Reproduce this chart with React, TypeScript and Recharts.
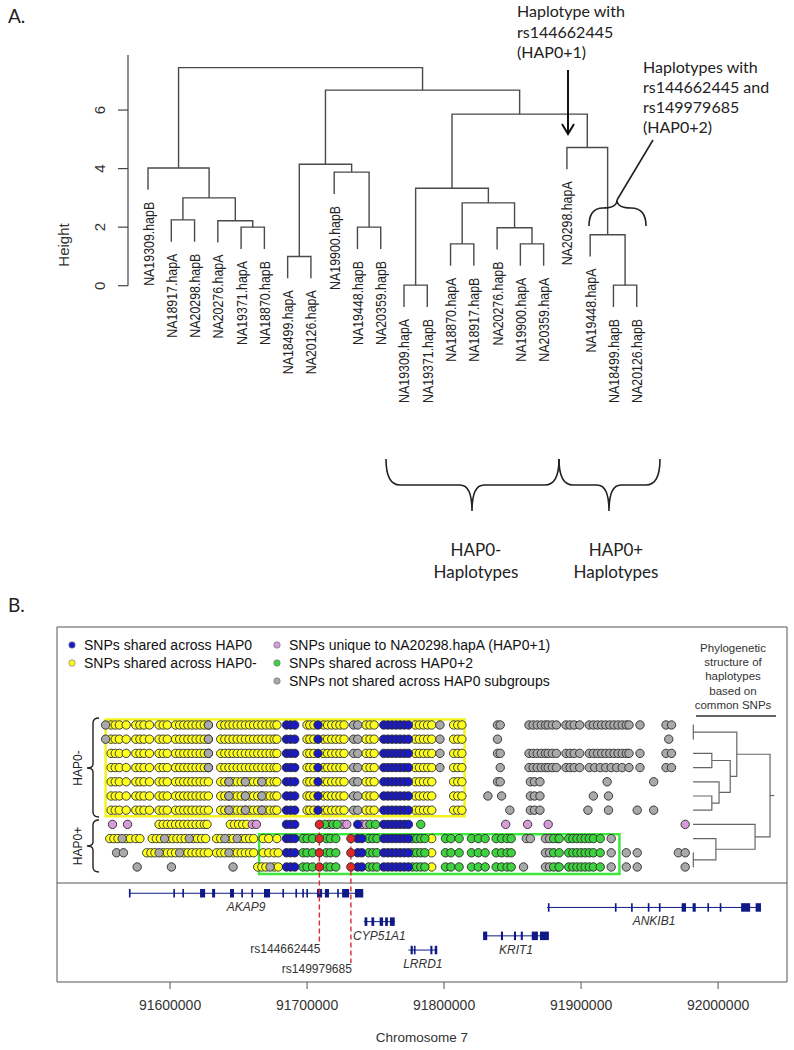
"use client";

import React from "react";
import {
  ComposedChart,
  Line,
  Scatter,
  XAxis,
  YAxis,
  ReferenceArea,
  ReferenceLine,
} from "recharts";

const FONT = "'Liberation Sans', Arial, Helvetica, sans-serif";
const NOTE_FONT = "Lato, 'Open Sans', sans-serif";

// ---------- panel A: clustering of the 22 haplotypes ----------
const leafLabels = [
  "NA19309.hapB", "NA18917.hapA", "NA20298.hapB", "NA20276.hapA", "NA19371.hapA",
  "NA18870.hapB", "NA18499.hapA", "NA20126.hapA", "NA19900.hapB", "NA19448.hapB",
  "NA20359.hapB", "NA19309.hapA", "NA19371.hapB", "NA18870.hapA", "NA18917.hapB",
  "NA20276.hapB", "NA19900.hapA", "NA20359.hapA", "NA20298.hapA", "NA19448.hapA",
  "NA18499.hapB", "NA20126.hapB",
];
// hclust style merge table: negative = leaf number, positive = earlier merge
const merges: [number, number][] = [
  [-12, -13], [-21, -22], [-7, -8], [-14, -15], [-17, -18], [-20, 2], [-5, -6],
  [-10, -11], [-16, 5], [-2, -3], [-4, 7], [4, 9], [10, 11], [1, 12], [-9, 8],
  [-1, 13], [3, 15], [-19, 6], [14, 18], [17, 19], [16, 20],
];
const mergeHeights = [
  0.02, 0.02, 1.0, 1.43, 1.43, 1.74, 2.0, 2.0, 1.98, 2.25, 2.22, 2.83, 3.0, 3.33,
  3.88, 4.02, 4.15, 4.72, 5.86, 6.68, 7.45,
];
const HANG = 0.745;
const heightTicks = [0, 2, 4, 6];
const heightAxisTop = 7.88;

// ---------- panel B: SNP positions (kb on chromosome 7) per haplotype row ----------
// rows 0-6 = HAP0- haplotypes (leaves 12-18), row 7 = NA20298.hapA, rows 8-10 = HAP0+2
const chromTicks = [91600, 91700, 91800, 91900, 92000];
const HAP0_ROOT_MERGE = 19;
const FIRST_ROW_LEAF = 12;

const yellowHap0Minus = [
  91557, 91560, 91563, 91568, 91575, 91578, 91581, 91585, 91592, 91595, 91598, 91604,
  91607, 91610, 91613, 91616, 91619, 91622, 91625, 91628, 91637, 91640, 91643, 91646,
  91649, 91652, 91655, 91658, 91661, 91664, 91667, 91670, 91673, 91676, 91678, 91700,
  91702, 91705, 91712, 91715, 91718, 91721, 91724, 91727, 91743, 91746, 91749, 91779,
  91782, 91785, 91788, 91791, 91807, 91810, 91813,
];
const yellowHap0Plus = [
  [91592, 91595, 91598, 91601, 91604, 91607, 91610, 91613, 91616, 91619, 91622, 91625,
    91627, 91644, 91647, 91650, 91653, 91656],
  [91556, 91559, 91562, 91568, 91571, 91575, 91578, 91587, 91590, 91593, 91599, 91602,
    91605, 91608, 91611, 91617, 91620, 91623, 91626, 91634, 91637, 91643, 91646, 91652,
    91655, 91658, 91661, 91668, 91672, 91678, 91791],
  [91583, 91586, 91589, 91595, 91598, 91601, 91604, 91610, 91613, 91616, 91619, 91622,
    91625, 91628, 91634, 91637, 91640, 91646, 91649, 91652, 91655, 91658, 91661, 91668,
    91672, 91676, 91679, 91791],
  [91664, 91667, 91670, 91676, 91679, 91791],
];
const greyByRow = [
  [91553, 91628, 91734, 91737, 91797, 91839, 91841, 91862, 91865, 91868, 91871, 91874,
    91876, 91879, 91882, 91889, 91892, 91895, 91899, 91906, 91909, 91912, 91915, 91918,
    91921, 91924, 91927, 91930, 91933, 91935, 91943, 91962, 91966],
  [91553, 91628, 91734, 91737, 91797, 91839, 91964],
  [91628, 91734, 91737, 91797, 91839, 91841, 91862, 91865, 91868, 91871, 91874, 91876,
    91879, 91882, 91889, 91892, 91895, 91899, 91906, 91909, 91912, 91915, 91918, 91921,
    91924, 91927, 91930, 91933, 91935, 91943, 91962, 91966],
  [91628, 91734, 91737, 91797, 91841, 91862, 91865, 91868, 91871, 91874, 91876, 91879,
    91882, 91889, 91892, 91895, 91899, 91906, 91910, 91914, 91918, 91922, 91926, 91930,
    91935, 91943, 91962, 91966],
  [91643, 91655, 91667, 91734, 91737, 91839, 91841, 91863, 91866, 91870, 91919, 91953],
  [91643, 91655, 91667, 91734, 91737, 91832, 91842, 91863, 91866, 91870, 91909, 91920],
  [91643, 91655, 91667, 91734, 91737, 91848, 91863, 91866, 91870, 91905, 91920, 91941,
    91953],
  [],
  [91565, 91596, 91614, 91640, 91649, 91860, 91863, 91874, 91877, 91883, 91922],
  [91561, 91566, 91592, 91607, 91643, 91874, 91877, 91922, 91933, 91941, 91971, 91976],
  [91576, 91601, 91646, 91673, 91858, 91874, 91877, 91883, 91922, 91933, 91941, 91976],
];
const blueShared = [91685, 91688, 91691, 91756, 91759, 91762, 91765, 91768, 91771, 91774];
const blueHap0Minus = [91708];
const blueHap0Plus = [91737];
const blueHap0Plus2 = [91740];
const pinkUnique = [
  91558, 91569, 91660, 91663, 91716, 91726, 91729, 91740, 91743, 91845, 91861, 91876, 91976,
];
const greenRow7 = [91713, 91719, 91722, 91746, 91750, 91783];
const greenHap0Plus2 = [
  91697, 91700, 91704, 91714, 91717, 91721, 91745, 91748, 91751, 91777, 91780, 91783,
  91786, 91801, 91805, 91811, 91820, 91825, 91830, 91838, 91842, 91846, 91849, 91880,
  91884, 91891, 91894, 91897, 91900, 91903, 91906, 91909, 91914,
];
const rsNames = ["rs144662445", "rs149979685"];
const rsPositions = [91709, 91732];
const rsFirstRow = [7, 8];

const genes = [
  { name: "AKAP9", start: 91570, end: 91741, lane: 0,
    exons: [[91570, 91571.2], [91602.4, 91603.6], [91609, 91610.2], [91621.9, 91625.6],
      [91630.7, 91632.9], [91643.8, 91646.7], [91652, 91653.2], [91659.4, 91660.6],
      [91668.6, 91673], [91682, 91683.2], [91691.5, 91692.7], [91696.5, 91697.7],
      [91699.5, 91700.7], [91707.3, 91711], [91713, 91716], [91722, 91723.2],
      [91725.6, 91730.7], [91735, 91741]] },
  { name: "ANKIB1", start: 91875.2, end: 92031.3, lane: 1,
    exons: [[91875.8, 91877], [91924.7, 91925.9], [91936.5, 91937.7], [91948.7, 91949.9],
      [91956.8, 91958], [91973.4, 91976.6], [91981.4, 91983.7], [91992.2, 91993.4],
      [92001.2, 92002.4], [92016.8, 92023.4], [92027.4, 92031.3]] },
  { name: "CYP51A1", start: 91741.5, end: 91764.1, lane: 2,
    exons: [[91742, 91744], [91747, 91749], [91753, 91755.5], [91757, 91759],
      [91760.5, 91764]] },
  { name: "KRIT1", start: 91828.5, end: 91876.5, lane: 3,
    exons: [[91828.5, 91831.5], [91841.5, 91843], [91851, 91852.5], [91856, 91857.5],
      [91864, 91868.5], [91870, 91876.5]] },
  { name: "LRRD1", start: 91774, end: 91795, lane: 4,
    exons: [[91775.6, 91777.2], [91778, 91779.2], [91790, 91791.5], [91793.2, 91795]] },
];

const legendLabels = [
  "SNPs shared across HAP0",
  "SNPs shared across HAP0-",
  "SNPs unique to NA20298.hapA (HAP0+1)",
  "SNPs shared across HAP0+2",
  "SNPs not shared across HAP0 subgroups",
];
const phyloNote = ["Phylogenetic", "structure of", "haplotypes", "based on", "common SNPs"];

// ---------- derived geometry ----------
const nodeX: number[] = [];
merges.forEach(([a, b]) => {
  const xa = a < 0 ? -a : nodeX[a - 1];
  const xb = b < 0 ? -b : nodeX[b - 1];
  nodeX.push((xa + xb) / 2);
});
const leafTipHeight: number[] = [];
merges.forEach(([a, b], i) => {
  if (a < 0) leafTipHeight[-a - 1] = mergeHeights[i] - HANG;
  if (b < 0) leafTipHeight[-b - 1] = mergeHeights[i] - HANG;
});
const dendroSegs = merges.map(([a, b], i) => {
  const H = mergeHeights[i];
  const end = (c: number) =>
    c < 0 ? { x: -c, y: H - HANG } : { x: nodeX[c - 1], y: mergeHeights[c - 1] };
  const l = end(a);
  const r = end(b);
  return [
    { x: l.x, y: l.y },
    { x: l.x, y: H },
    { x: r.x, y: H },
    { x: r.x, y: r.y },
  ];
});
const leafTips = leafLabels.map((label, i) => ({ x: i + 1, y: leafTipHeight[i], label }));

// small tree beside the SNP rows: same subtree, leaves at height 0
const nodeRow: Record<number, number> = {};
const miniSegs: { t: number; y: number }[][] = [];
function walk(m: number) {
  const [a, b] = merges[m - 1];
  const H = mergeHeights[m - 1];
  const end = (c: number) => {
    if (c < 0) return { t: 0, y: -c - FIRST_ROW_LEAF };
    walk(c);
    return { t: mergeHeights[c - 1], y: nodeRow[c] };
  };
  const l = end(a);
  const r = end(b);
  nodeRow[m] = (l.y + r.y) / 2;
  miniSegs.push([
    { t: l.t, y: l.y },
    { t: H, y: l.y },
    { t: H, y: r.y },
    { t: r.t, y: r.y },
  ]);
}
walk(HAP0_ROOT_MERGE);
const rootH = mergeHeights[HAP0_ROOT_MERGE - 1];
const miniStub = [
  { t: rootH, y: nodeRow[HAP0_ROOT_MERGE] },
  { t: rootH + 0.32, y: nodeRow[HAP0_ROOT_MERGE] },
];

const hap0MinusRows = [0, 1, 2, 3, 4, 5, 6];
const allRows = [0, 1, 2, 3, 4, 5, 6, 7, 8, 9, 10];
const plusRows = [7, 8, 9, 10];
const plus2Rows = [8, 9, 10];
const onRows = (sites: number[], rows: number[]) =>
  rows.flatMap((r) => sites.map((x) => ({ x, y: r })));
const byRow = (list: number[][], first: number) =>
  list.flatMap((sites, i) => sites.map((x) => ({ x, y: first + i })));

const yellowPts = [...onRows(yellowHap0Minus, hap0MinusRows), ...byRow(yellowHap0Plus, 7)];
const greyPts = byRow(greyByRow, 0);
const pinkPts = onRows(pinkUnique, [7]);
const greenPts = [...onRows(greenRow7, [7]), ...onRows(greenHap0Plus2, plus2Rows)];
const bluePts = [
  ...onRows(blueShared, allRows),
  ...onRows(blueHap0Minus, hap0MinusRows),
  ...onRows(blueHap0Plus, plusRows),
  ...onRows(blueHap0Plus2, plus2Rows),
];
const redPts = rsPositions.flatMap((x, i) =>
  allRows.filter((r) => r >= rsFirstRow[i]).map((r) => ({ x, y: r }))
);

// layout of panel B in row units
const X0 = 91517.5;
const X1 = 92050.3;
const Y_TOP = -6.9;
const Y_BOT = 18.1;
const SEPARATOR = 11.13;
const laneRow = (lane: number) => 11.85 + lane;
const rsEndRow = [15.35, 16.76];

const C = {
  blue: "#1a1ac4",
  yellow: "#ffff1e",
  pink: "#d89ad8",
  green: "#3fd23f",
  grey: "#a9a9a9",
  red: "#e02a2a",
  navy: "#0f1a86",
};

const dot = (fill: string) => (p: any) => (
  <circle cx={p.cx} cy={p.cy} r={4.2} fill={fill} stroke="#2a2a2a" strokeWidth={0.9} />
);

const LeafLabel = (p: any) => {
  const x = p.cx;
  const y = p.cy + 12;
  return (
    <text
      x={x}
      y={y}
      transform={`rotate(-90 ${x} ${y})`}
      textAnchor="end"
      dominantBaseline="central"
      fontSize={15}
      textLength={84}
      lengthAdjust="spacingAndGlyphs"
      fill="#222"
      fontFamily={FONT}
    >
      {p.payload.label}
    </text>
  );
};

const HeightTick = (p: any) => {
  const x = p.x - 16;
  return (
    <text
      x={x}
      y={p.y}
      transform={`rotate(-90 ${x} ${p.y})`}
      textAnchor="middle"
      dominantBaseline="central"
      fontSize={15}
      fill="#333"
      fontFamily={FONT}
    >
      {p.payload.value}
    </text>
  );
};

const GeneLabel = (p: any) => (
  <text
    x={p.cx}
    y={p.cy + 14}
    textAnchor="middle"
    dominantBaseline="central"
    fontSize={12}
    fontStyle="italic"
    fill="#333"
    fontFamily={FONT}
  >
    {p.payload.name}
  </text>
);

const RsLabel = (p: any) => (
  <text
    x={p.cx + 1}
    y={p.cy + 6}
    textAnchor="end"
    dominantBaseline="central"
    fontSize={12}
    fill="#333"
    fontFamily={FONT}
  >
    {p.payload.name}
  </text>
);

function DendrogramPanel() {
  return (
    <ComposedChart width={794} height={600} margin={{ top: 55, right: 134, bottom: 285, left: 0 }}>
      <XAxis type="number" dataKey="x" domain={[0.14, 23]} hide />
      <YAxis
        type="number"
        dataKey="y"
        domain={[-1, heightAxisTop]}
        ticks={heightTicks}
        interval={0}
        width={128}
        axisLine={false}
        tickSize={10}
        tickLine={{ stroke: "#444", strokeWidth: 1.2 }}
        tick={(p: any) => <HeightTick {...p} />}
      />
      <Line
        data={[{ x: 0.14, y: 0 }, { x: 0.14, y: heightAxisTop }]}
        dataKey="y"
        stroke="#444"
        strokeWidth={1.2}
        dot={false}
        activeDot={false}
        isAnimationActive={false}
      />
      {dendroSegs.map((seg, i) => (
        <Line
          key={i}
          data={seg}
          dataKey="y"
          type="linear"
          stroke="#4a4a4a"
          strokeWidth={1.4}
          dot={false}
          activeDot={false}
          isAnimationActive={false}
        />
      ))}
      <Scatter data={leafTips} shape={LeafLabel} isAnimationActive={false} />
    </ComposedChart>
  );
}

function SnpPanel() {
  return (
    <ComposedChart width={794} height={450} margin={{ top: 27, right: 7, bottom: 0, left: 57 }}>
      <XAxis
        xAxisId={0}
        type="number"
        dataKey="x"
        domain={[X0, X1]}
        ticks={chromTicks}
        interval={0}
        tickFormatter={(v: number) => String(Math.round(v * 1000))}
        tickSize={7}
        tickMargin={11}
        axisLine={false}
        tickLine={{ stroke: "#555" }}
        tick={{ fontSize: 14, fill: "#333", fontFamily: FONT }}
        height={68}
        label={{ value: "Chromosome 7", position: "insideBottom", offset: 8, fontSize: 13.5, fill: "#333", fontFamily: FONT }}
      />
      <XAxis xAxisId="tree" type="number" dataKey="t" domain={[-48.4, 7.15]} hide />
      <YAxis type="number" dataKey="y" domain={[Y_TOP, Y_BOT]} reversed hide />

      <ReferenceArea x1={X0} x2={X1} y1={Y_TOP} y2={Y_BOT} fill="none" stroke="#555" strokeWidth={1} />
      <ReferenceLine y={SEPARATOR} stroke="#555" strokeWidth={1} />
      <ReferenceArea x1={91553} x2={91815} y1={-0.38} y2={6.42} fill="none" stroke="#f4f41c" strokeWidth={2.5} />
      <ReferenceArea x1={91665} x2={91928} y1={7.7} y2={10.5} fill="none" stroke="#3ee83e" strokeWidth={2.5} />

      {genes.map((g) => (
        <Line
          key={g.name}
          data={[{ x: g.start, y: laneRow(g.lane) }, { x: g.end, y: laneRow(g.lane) }]}
          dataKey="y"
          stroke={C.navy}
          strokeWidth={1}
          dot={false}
          activeDot={false}
          isAnimationActive={false}
        />
      ))}
      {genes.flatMap((g) =>
        g.exons.map(([s, e], j) => (
          <ReferenceArea
            key={g.name + j}
            x1={s}
            x2={e}
            y1={laneRow(g.lane) - 0.3}
            y2={laneRow(g.lane) + 0.3}
            fill={C.navy}
            fillOpacity={1}
            stroke="none"
          />
        ))
      )}
      {rsPositions.map((x, i) => (
        <ReferenceLine
          key={rsNames[i]}
          segment={[{ x, y: rsFirstRow[i] }, { x, y: rsEndRow[i] }]}
          stroke={C.red}
          strokeWidth={1.4}
          strokeDasharray="5 3"
        />
      ))}

      <Scatter data={yellowPts} shape={dot(C.yellow)} isAnimationActive={false} />
      <Scatter data={greyPts} shape={dot(C.grey)} isAnimationActive={false} />
      <Scatter data={pinkPts} shape={dot(C.pink)} isAnimationActive={false} />
      <Scatter data={greenPts} shape={dot(C.green)} isAnimationActive={false} />
      <Scatter data={bluePts} shape={dot(C.blue)} isAnimationActive={false} />
      <Scatter data={redPts} shape={dot(C.red)} isAnimationActive={false} />

      {[...miniSegs, miniStub].map((seg, i) => (
        <Line
          key={"m" + i}
          xAxisId="tree"
          data={seg}
          dataKey="y"
          type="linear"
          stroke="#666"
          strokeWidth={1.2}
          dot={false}
          activeDot={false}
          isAnimationActive={false}
        />
      ))}

      <Scatter
        data={genes.map((g) => ({ x: (g.start + g.end) / 2, y: laneRow(g.lane), name: g.name }))}
        shape={GeneLabel}
        isAnimationActive={false}
      />
      <Scatter
        data={rsPositions.map((x, i) => ({ x, y: rsEndRow[i], name: rsNames[i] }))}
        shape={RsLabel}
        isAnimationActive={false}
      />
    </ComposedChart>
  );
}

const hBrace = (x1: number, x2: number, xm: number, y0: number, y1: number, y2: number) =>
  `M${x1},${y0} Q${x1},${y1} ${x1 + 14},${y1} L${xm - 12},${y1} Q${xm},${y1} ${xm},${y2} ` +
  `Q${xm},${y1} ${xm + 12},${y1} L${x2 - 14},${y1} Q${x2},${y1} ${x2},${y0}`;

const vBrace = (xEnd: number, xSpine: number, xTip: number, y1: number, y2: number, ym: number) =>
  `M${xEnd},${y1} Q${xSpine},${y1} ${xSpine},${y1 + 5} L${xSpine},${ym - 4} Q${xSpine},${ym} ${xTip},${ym} ` +
  `Q${xSpine},${ym} ${xSpine},${ym + 4} L${xSpine},${y2 - 5} Q${xSpine},${y2} ${xEnd},${y2}`;

function Annotations() {
  const legendColors = [C.blue, C.yellow, C.pink, C.green, C.grey];
  const legendPos = [
    [72, 645], [72, 663], [277, 645], [277, 663], [277, 681],
  ];
  return (
    <svg
      width={794}
      height={1050}
      style={{ position: "absolute", left: 0, top: 0, pointerEvents: "none" }}
    >
      <text x={8} y={23} fontSize={19} fontFamily={NOTE_FONT} fill="#222">A.</text>
      <text x={8} y={612} fontSize={19} fontFamily={NOTE_FONT} fill="#222">B.</text>

      <text
        x={63}
        y={245}
        transform="rotate(-90 63 245)"
        textAnchor="middle"
        dominantBaseline="central"
        fontSize={15}
        fill="#333"
        fontFamily={FONT}
      >
        Height
      </text>

      <g fontFamily={NOTE_FONT} fontSize={16} fill="#222">
        <text x={517} y={17}>Haplotype with</text>
        <text x={517} y={38}>rs144662445</text>
        <text x={517} y={58}>(HAP0+1)</text>
        <text x={643} y={73}>Haplotypes with</text>
        <text x={643} y={93}>rs144662445 and</text>
        <text x={643} y={113}>rs149979685</text>
        <text x={643} y={133}>(HAP0+2)</text>
      </g>
      <line x1={568} y1={70} x2={568} y2={133} stroke="#111" strokeWidth={2} />
      <polyline points="562,124 568,134 574,124" fill="none" stroke="#111" strokeWidth={2} />
      <path
        d="M589,226 Q589,208 603,208 Q617,208 617,200 Q617,208 631,208 Q646,208 646,226"
        fill="none"
        stroke="#222"
        strokeWidth={1.6}
      />
      <line x1={617} y1={200} x2={653} y2={140} stroke="#222" strokeWidth={1.6} />

      <path d={hBrace(386, 559, 472, 459, 485, 511)} fill="none" stroke="#222" strokeWidth={1.6} />
      <path d={hBrace(559, 660, 609, 459, 485, 511)} fill="none" stroke="#222" strokeWidth={1.6} />
      <g fontFamily={NOTE_FONT} fontSize={17} fill="#222" textAnchor="middle">
        <text x={476} y={556}>HAP0-</text>
        <text x={476} y={578}>Haplotypes</text>
        <text x={616} y={556}>HAP0+</text>
        <text x={616} y={578}>Haplotypes</text>
      </g>

      {legendLabels.map((label, i) => (
        <g key={label}>
          <circle cx={legendPos[i][0]} cy={legendPos[i][1]} r={3.2} fill={legendColors[i]} stroke="#777" strokeWidth={0.7} />
          <text
            x={legendPos[i][0] + 12}
            y={legendPos[i][1]}
            dominantBaseline="central"
            fontSize={14}
            fill="#111"
            fontFamily={FONT}
          >
            {label}
          </text>
        </g>
      ))}

      {phyloNote.map((line, i) => (
        <text
          key={line}
          x={733}
          y={648 + i * 14.2}
          textAnchor="middle"
          dominantBaseline="central"
          fontSize={11.5}
          fill="#333"
          fontFamily={FONT}
        >
          {line}
        </text>
      ))}
      <line x1={696} y1={716} x2={776} y2={716} stroke="#333" strokeWidth={1.4} />

      <path d={vBrace(99, 93, 87, 718, 817, 768)} fill="none" stroke="#222" strokeWidth={1.4} />
      <path d={vBrace(99, 93, 87, 820, 872, 846)} fill="none" stroke="#222" strokeWidth={1.4} />
      <g fontFamily={FONT} fontSize={12} fill="#222" textAnchor="middle">
        <text x={78} y={768} transform="rotate(-90 78 768)" dominantBaseline="central">HAP0-</text>
        <text x={78} y={846} transform="rotate(-90 78 846)" dominantBaseline="central">HAP0+</text>
      </g>
    </svg>
  );
}

export default function App() {
  return (
    <div
      style={{
        position: "absolute",
        left: 0,
        top: 0,
        width: 794,
        height: 1050,
        background: "#fff",
        overflow: "hidden",
        fontFamily: FONT,
      }}
    >
      <div style={{ position: "absolute", left: 0, top: 0 }}>
        <DendrogramPanel />
      </div>
      <div style={{ position: "absolute", left: 0, top: 600 }}>
        <SnpPanel />
      </div>
      <Annotations />
    </div>
  );
}
